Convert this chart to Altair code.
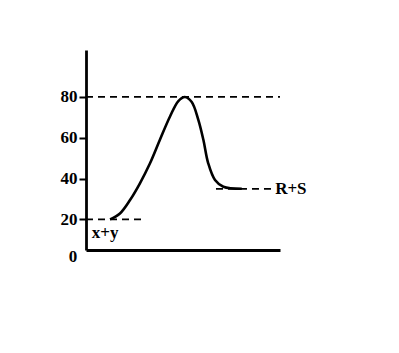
import altair as alt
import pandas as pd

# Energy profile curve (reaction coordinate, energy)
curve_x = [12.4, 17.5, 22.7, 27.8, 33.0, 38.1, 43.3, 47.6, 51.0, 54.5, 57.9, 60.5, 63.0, 66.5, 70.8, 80.3]
curve_y = [20.0, 22.9, 29.5, 37.7, 47.5, 59.0, 70.4, 78.0, 80.0, 77.5, 68.8, 59.0, 47.5, 39.3, 36.0, 35.0]

# Dashed reference levels
level_y = [80, 20, 35]
level_x1 = [0, 0, 67]
level_x2 = [100, 30.4, 95.9]

# Text labels
label_text = ["R+S", "x+y", "0"]
label_x = [97.5, 3, -6.7]
label_y = [35, 13.3, 1.5]
label_align = ["left", "left", "center"]

y_ticks = [20, 40, 60, 80]

curve_df = pd.DataFrame({"x": curve_x, "y": curve_y})
levels_df = pd.DataFrame({"y": level_y, "x1": level_x1, "x2": level_x2})
labels_df = pd.DataFrame({"t": label_text, "x": label_x, "y": label_y, "a": label_align})

xs = alt.Scale(domain=[0, 100], nice=False, zero=False)
ys = alt.Scale(domain=[5, 103], nice=False, zero=False)

FONT = "Liberation Serif"

curve = alt.Chart(curve_df).mark_line(
    color="black", strokeWidth=2.6, interpolate="catmull-rom"
).encode(
    x=alt.X("x:Q", scale=xs, axis=alt.Axis(title=None, ticks=False, labels=False, grid=False,
                                           domainColor="black", domainWidth=2.8)),
    y=alt.Y("y:Q", scale=ys, axis=alt.Axis(title=None, values=y_ticks, grid=False,
                                           domainColor="black", domainWidth=2.8,
                                           tickColor="black", tickWidth=2, tickSize=7,
                                           labelFont=FONT, labelFontWeight="bold",
                                           labelFontSize=17, labelColor="black",
                                           labelPadding=2)),
)

levels = alt.Chart(levels_df).mark_rule(
    color="black", strokeWidth=1.8, strokeDash=[7, 5]
).encode(
    x=alt.X("x1:Q", scale=xs),
    x2="x2:Q",
    y=alt.Y("y:Q", scale=ys),
)

labels_left = alt.Chart(labels_df[labels_df["a"] == "left"]).mark_text(
    align="left", baseline="middle", font=FONT, fontWeight="bold", fontSize=17, color="black"
).encode(
    x=alt.X("x:Q", scale=xs),
    y=alt.Y("y:Q", scale=ys),
    text="t:N",
)

labels_center = alt.Chart(labels_df[labels_df["a"] == "center"]).mark_text(
    align="center", baseline="middle", font=FONT, fontWeight="bold", fontSize=17, color="black"
).encode(
    x=alt.X("x:Q", scale=xs),
    y=alt.Y("y:Q", scale=ys),
    text="t:N",
)

chart = alt.layer(levels, curve, labels_left, labels_center).properties(
    width=194,
    height=200,
    autosize=alt.AutoSizeParams(type="none"),
    padding={"left": 86, "top": 50, "right": 119, "bottom": 103},
    background="white",
).configure_view(stroke=None)

chart.save("out.html", embed_options={"renderer": "svg", "actions": False})
